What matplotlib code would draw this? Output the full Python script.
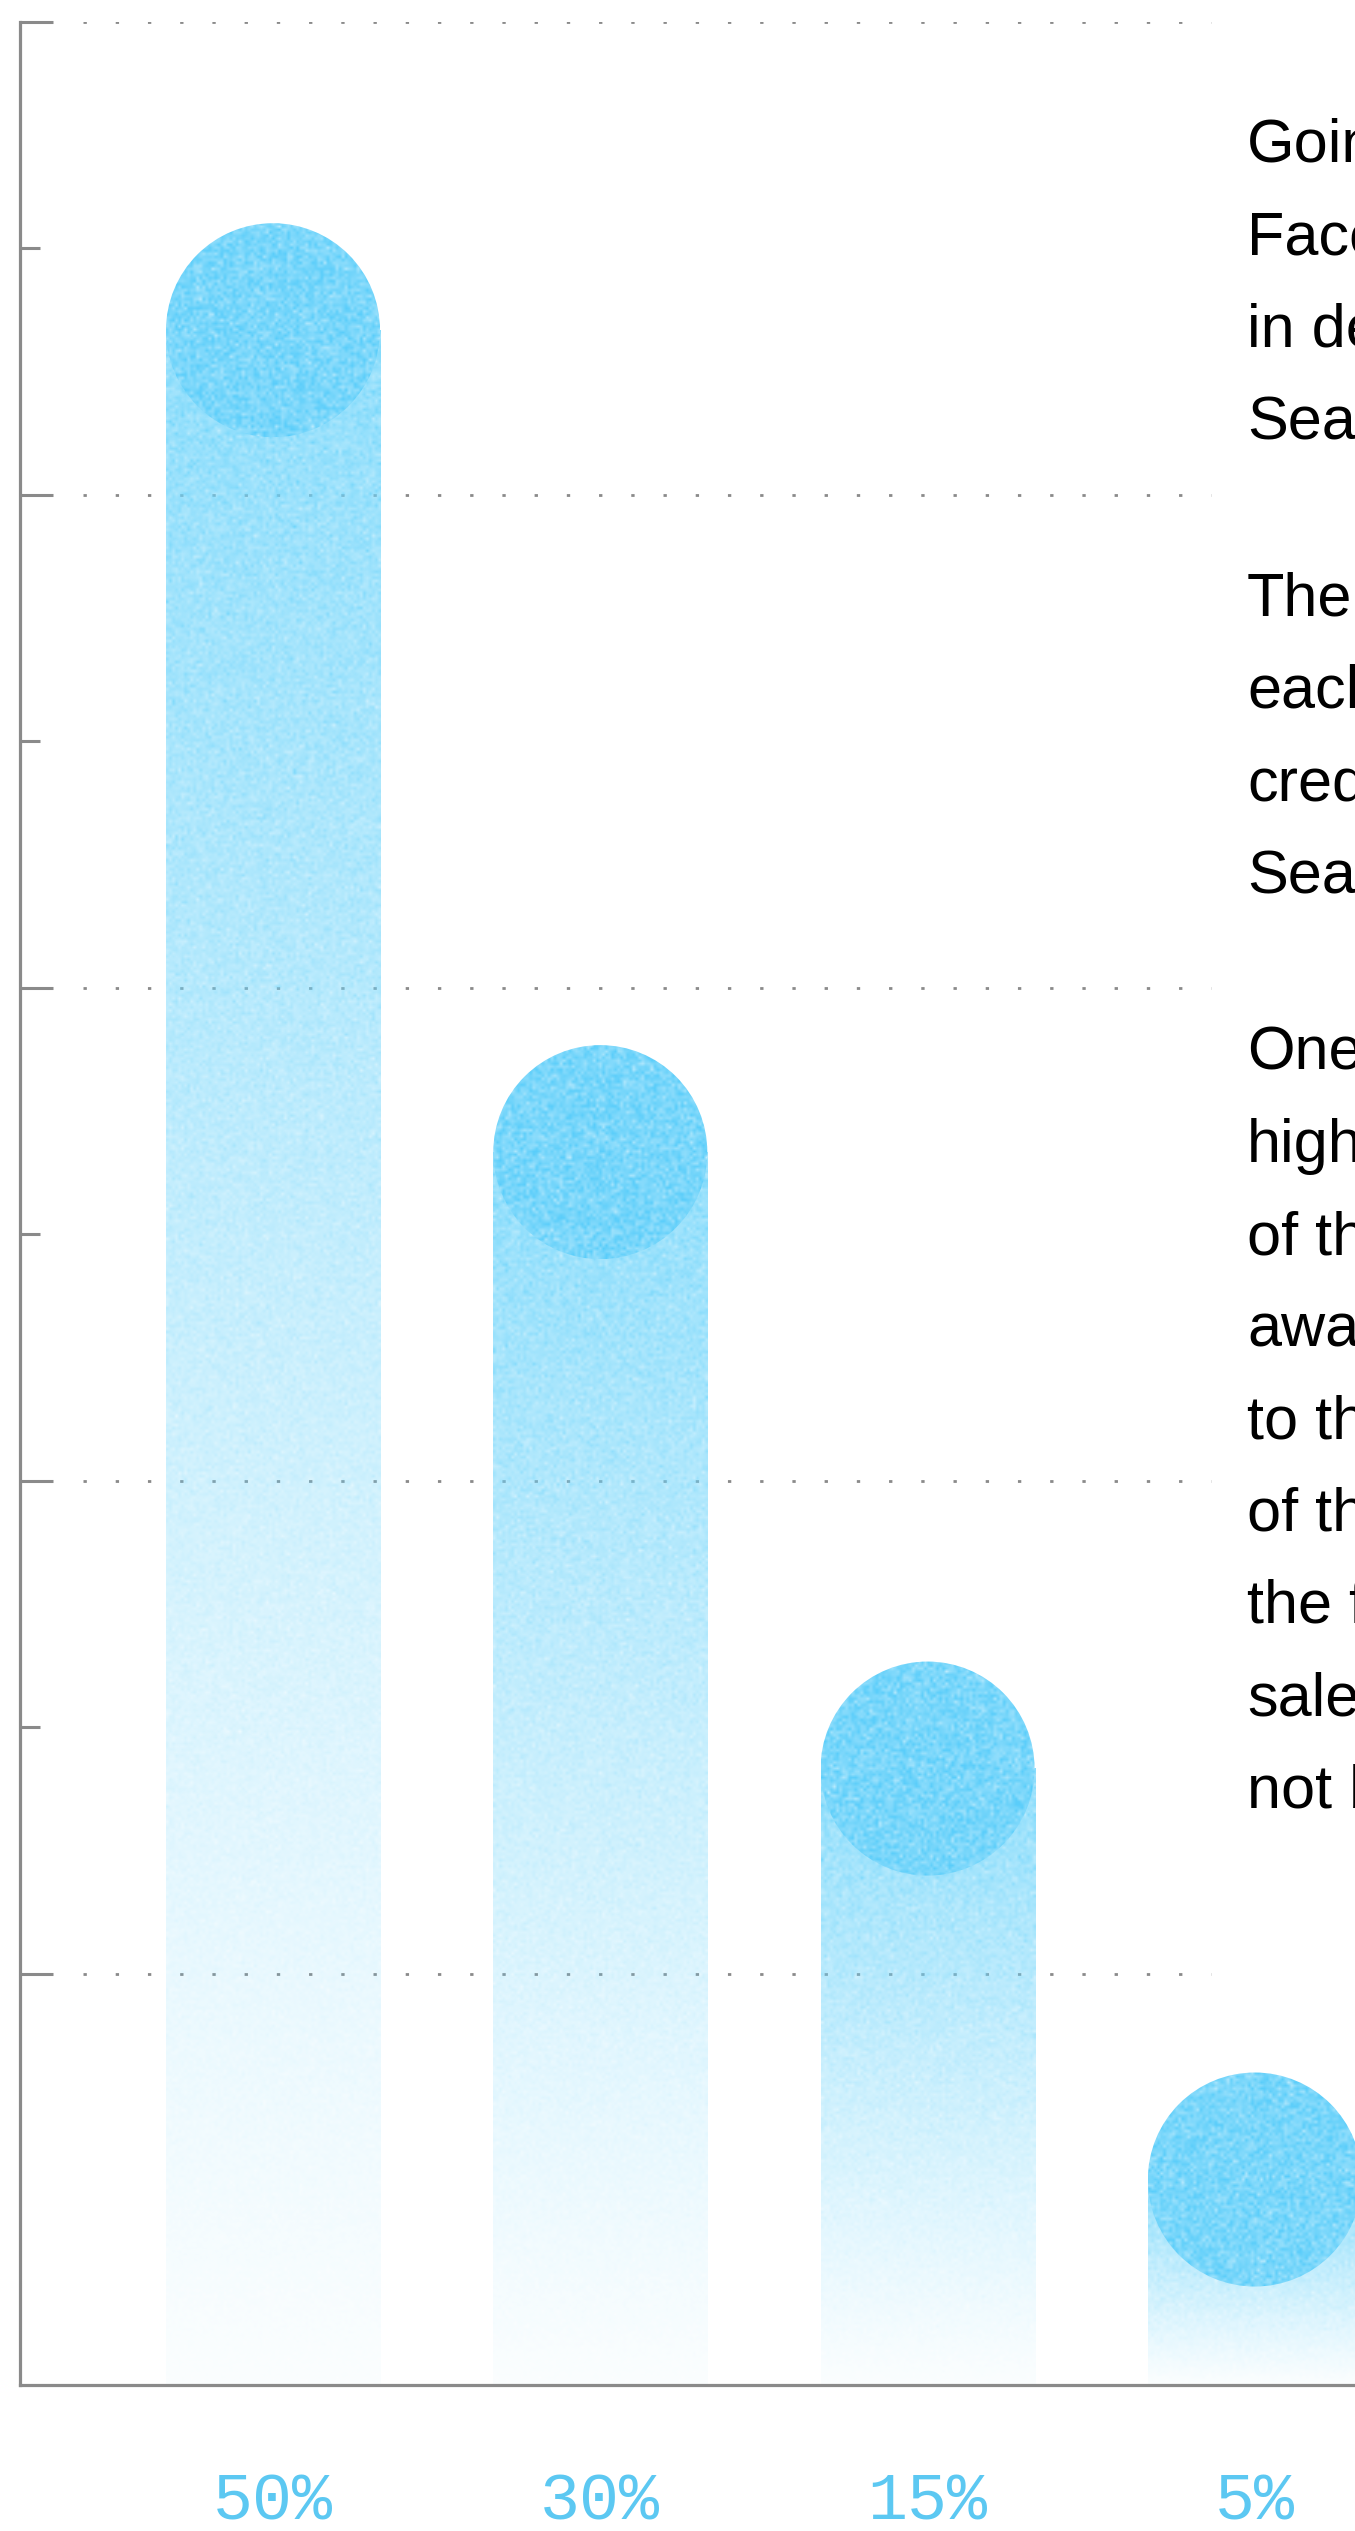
import numpy as np
import matplotlib
matplotlib.use("Agg")
import matplotlib.pyplot as plt
from matplotlib.patches import Ellipse

# share of each channel
categories = ["50%", "30%", "15%", "5%"]
values = [50, 30, 15, 5]

# gridlines / ticks on the value axis
major_ticks = [10, 22, 34, 46, 57.5]
minor_ticks = [16, 28, 40, 52]

# copy column, runs off the right edge of the panel
paragraphs = [
    ["Going", "Facebook", "in demand", "Search"],
    ["There", "each", "credit", "Search"],
    ["One", "higher", "of the", "aware", "to the", "of the", "the first",
     "sales", "not be"],
]

W, H = 1355, 2531
BLUE = np.array([108, 212, 251]) / 255
DOT = np.array([122, 215, 251]) / 255
AXIS = "#8a8a8a"

rng = np.random.default_rng(7)

fig = plt.figure(figsize=(W / 100, H / 100), dpi=100)
ax = fig.add_axes([20 / W, 146 / H, 1335 / W, 2363 / H])
ax.set_xlim(-0.773, 3.306)
ax.set_ylim(0, 57.5)

# pixels per data unit, so the bar caps come out round
px_x = 1335 / (3.306 + 0.773)
px_y = 2363 / 57.5
bar_w = 0.654
cap_h = bar_w * px_x / px_y


def grain(rows, cols, amp):
    return rng.normal(0, 1, (rows, cols)) * amp


for g in major_ticks:
    ax.axhline(g, xmin=63 / 1335, xmax=1191 / 1335, color="#8a8a8a", lw=2,
               dashes=(1.2, 10.4), zorder=1)

for i, v in enumerate(values):
    # fading body of the bar
    rows = max(int(v * px_y / 3), 2)
    cols = int(bar_w * px_x / 3)
    t = np.linspace(1, 0, rows)[:, None]
    alpha = 0.03 + 0.72 * t ** 1.1
    alpha = np.clip(alpha * (1 + grain(rows, cols, 0.12)), 0, 1)
    img = np.zeros((rows, cols, 4))
    img[..., :3] = BLUE
    img[..., 3] = alpha
    ax.imshow(img, extent=[i - bar_w / 2, i + bar_w / 2, 0, v],
              aspect="auto", interpolation="bilinear", zorder=2)

    # round cap sitting on top of the bar
    cap = Ellipse((i, v), bar_w, cap_h, facecolor="none", edgecolor="none")
    ax.add_patch(cap)
    crow = int(cap_h * px_y / 3)
    mix = np.clip(grain(crow, cols, 0.09), -0.15, 0.4)[..., None]
    cimg = np.ones((crow, cols, 4))
    cimg[..., :3] = np.clip(DOT + mix * (1 - DOT) * 1.6, 0, 1)
    im = ax.imshow(cimg, extent=[i - bar_w / 2, i + bar_w / 2,
                                 v - cap_h / 2, v + cap_h / 2],
                   aspect="auto", interpolation="bilinear", zorder=3)
    im.set_clip_path(cap)

    ax.text(i, -118 / 2363, categories[i], transform=ax.get_xaxis_transform(),
            ha="center", va="center", fontsize=48, color="#5cc8f2",
            family="Liberation Mono")

for side in ["top", "right"]:
    ax.spines[side].set_visible(False)
for side in ["left", "bottom"]:
    ax.spines[side].set_color(AXIS)
    ax.spines[side].set_linewidth(2.3)
    ax.spines[side].set_zorder(5)

ax.set_yticks(major_ticks)
ax.set_yticks(minor_ticks, minor=True)
ax.set_yticklabels([])
ax.tick_params(axis="y", which="major", direction="in", length=24, width=2.2,
               color=AXIS)
ax.tick_params(axis="y", which="minor", direction="in", length=14.5, width=2.2,
               color=AXIS)
ax.set_xticks([])

y = 162
for para in paragraphs:
    for line in para:
        fig.text(1247 / W, 1 - y / H, line, fontsize=44, family="Liberation Sans",
                 color="black", va="baseline", ha="left")
        y += 92.2
    y += 85

fig.savefig("out.png", dpi=100)
